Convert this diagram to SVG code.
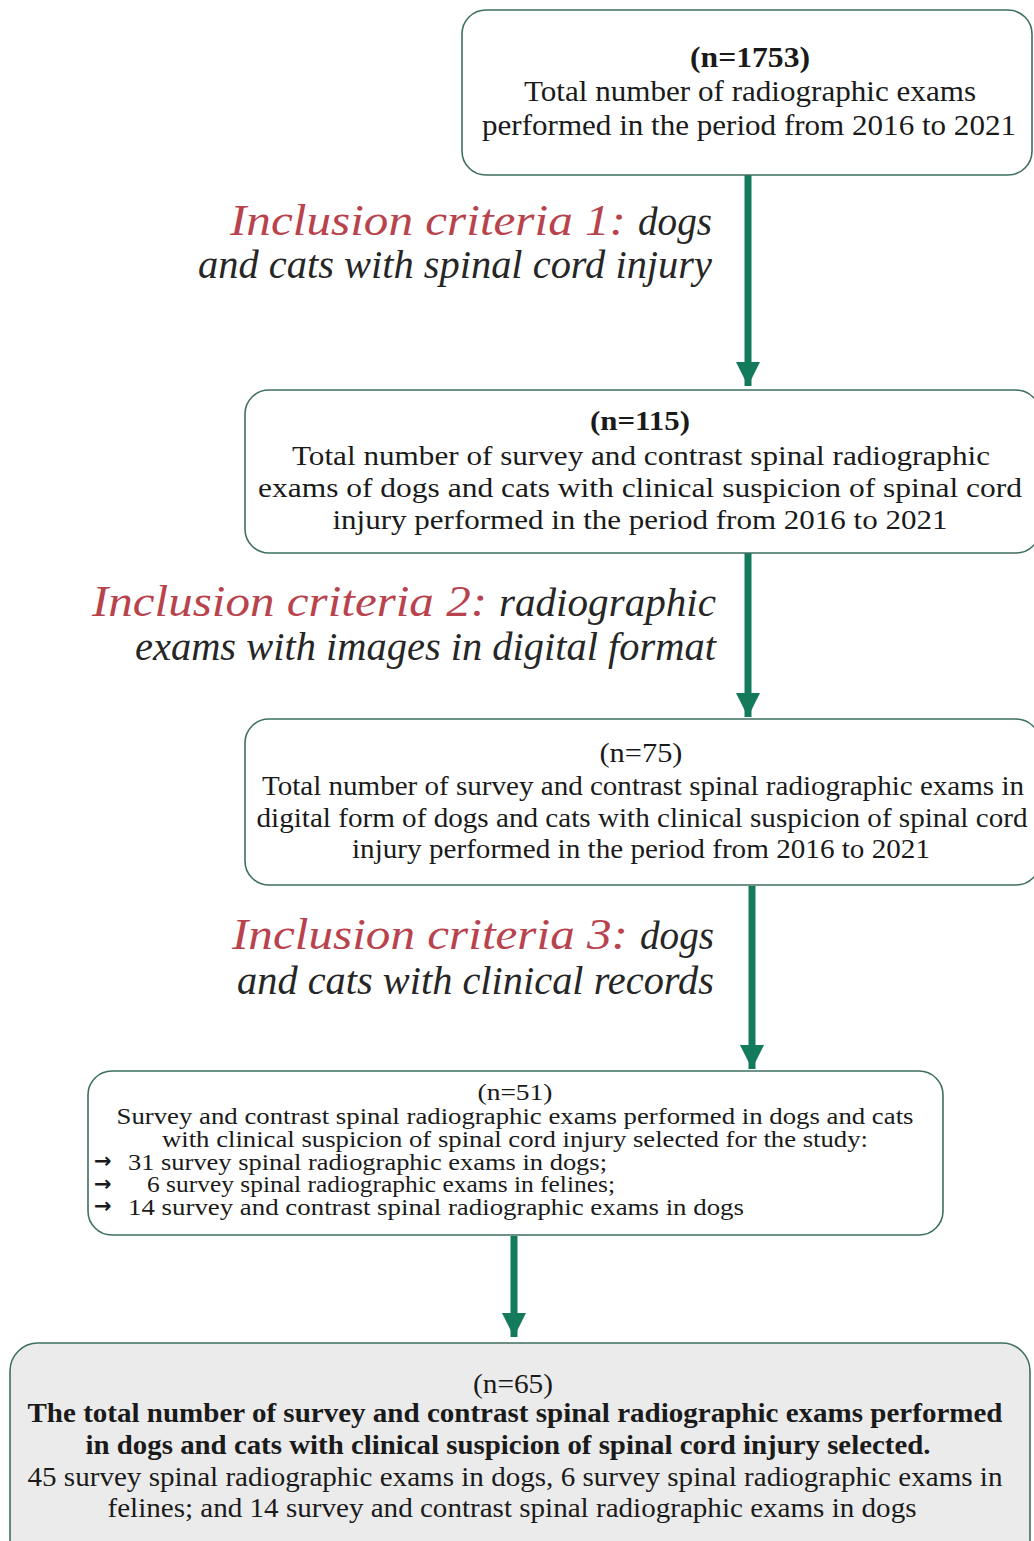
<svg xmlns="http://www.w3.org/2000/svg" width="1034" height="1541" viewBox="0 0 1034 1541">
<defs>
<marker id="ah" markerUnits="userSpaceOnUse" markerWidth="26" markerHeight="24" refX="24" refY="12" orient="auto">
<path d="M0,0 L24,12 L0,24 Z" fill="#137a5b"/>
</marker>
<style>
.box{fill:#ffffff;stroke:#3f6f60;stroke-width:1.6}
.gray{fill:#ebebeb}
.t{font-family:'Liberation Serif',serif;fill:#1a1a1a;text-anchor:middle}
.tl{font-family:'Liberation Serif',serif;fill:#1a1a1a}
.ar{font-family:'DejaVu Sans',sans-serif;fill:#1a1a1a;font-size:21px;font-weight:bold}
.red{font-family:'Liberation Serif',serif;font-style:italic;fill:#b8434d;font-size:44px}
.it{font-family:'Liberation Serif',serif;font-style:italic;fill:#262626;font-size:39px}
.b{font-weight:bold}
.conn{stroke:#137a5b;stroke-width:7;fill:none}
</style>
</defs>
<rect width="1034" height="1541" fill="#ffffff"/>

<g id="connectors">
<line class="conn" x1="748" y1="175" x2="748" y2="386" marker-end="url(#ah)"/>
<line class="conn" x1="748" y1="553" x2="748" y2="717" marker-end="url(#ah)"/>
<line class="conn" x1="752" y1="886" x2="752" y2="1069" marker-end="url(#ah)"/>
<line class="conn" x1="514" y1="1236" x2="514" y2="1337" marker-end="url(#ah)"/>
</g>

<g id="label1">
<text class="red" x="230" y="235" textLength="396" lengthAdjust="spacingAndGlyphs">Inclusion criteria 1:</text>
<text class="it" x="638" y="235" textLength="74" lengthAdjust="spacingAndGlyphs">dogs</text>
<text class="it" x="198" y="278" textLength="514" lengthAdjust="spacingAndGlyphs">and cats with spinal cord injury</text>
</g>

<g id="label2">
<text class="red" x="92" y="616" textLength="395" lengthAdjust="spacingAndGlyphs">Inclusion criteria 2:</text>
<text class="it" x="499" y="616" textLength="217" lengthAdjust="spacingAndGlyphs">radiographic</text>
<text class="it" x="135" y="660" textLength="581" lengthAdjust="spacingAndGlyphs">exams with images in digital format</text>
</g>

<g id="label3">
<text class="red" x="232" y="949" textLength="396" lengthAdjust="spacingAndGlyphs">Inclusion criteria 3:</text>
<text class="it" x="640" y="949" textLength="74" lengthAdjust="spacingAndGlyphs">dogs</text>
<text class="it" x="237" y="994" textLength="477" lengthAdjust="spacingAndGlyphs">and cats with clinical records</text>
</g>

<g id="node1">
<rect class="box" x="462" y="10" width="570" height="165" rx="24"/>
<text class="t b" x="750" y="67" font-size="29" textLength="120" lengthAdjust="spacingAndGlyphs">(n=1753)</text>
<text class="t" x="750" y="101" font-size="29" textLength="452" lengthAdjust="spacingAndGlyphs">Total number of radiographic exams</text>
<text class="t" x="749" y="135" font-size="29" textLength="534" lengthAdjust="spacingAndGlyphs">performed in the period from 2016 to 2021</text>
</g>

<g id="node2">
<rect class="box" x="245" y="390" width="795" height="163" rx="24"/>
<text class="t b" x="640" y="430" font-size="28" textLength="100" lengthAdjust="spacingAndGlyphs">(n=115)</text>
<text class="t" x="641" y="465" font-size="28" textLength="698" lengthAdjust="spacingAndGlyphs">Total number of survey and contrast spinal radiographic</text>
<text class="t" x="640" y="497" font-size="28" textLength="764" lengthAdjust="spacingAndGlyphs">exams of dogs and cats with  clinical  suspicion of spinal cord</text>
<text class="t" x="640" y="529" font-size="28" textLength="615" lengthAdjust="spacingAndGlyphs">injury  performed in  the period from 2016 to 2021</text>
</g>

<g id="node3">
<rect class="box" x="245" y="719" width="795" height="166" rx="24"/>
<text class="t" x="641" y="762" font-size="27" textLength="83" lengthAdjust="spacingAndGlyphs">(n=75)</text>
<text class="t" x="643" y="795" font-size="27" textLength="762" lengthAdjust="spacingAndGlyphs">Total number of survey and contrast spinal radiographic exams in</text>
<text class="t" x="642" y="827" font-size="27" textLength="771" lengthAdjust="spacingAndGlyphs">digital form of dogs and cats with clinical suspicion of spinal cord</text>
<text class="t" x="641" y="858" font-size="27" textLength="578" lengthAdjust="spacingAndGlyphs">injury performed in the period from 2016 to 2021</text>
</g>

<g id="node4">
<rect class="box" x="88" y="1071" width="855" height="164" rx="24"/>
<text class="t" x="515" y="1100" font-size="23" textLength="75" lengthAdjust="spacingAndGlyphs">(n=51)</text>
<text class="t" x="515" y="1124" font-size="23" textLength="797" lengthAdjust="spacingAndGlyphs">Survey and contrast spinal radiographic exams performed in dogs and cats</text>
<text class="t" x="515" y="1147" font-size="23" textLength="706" lengthAdjust="spacingAndGlyphs">with clinical  suspicion  of spinal cord injury  selected for the study:</text>
<text class="ar" x="94" y="1168">→</text>
<text class="tl" x="128" y="1170" font-size="23" textLength="479" lengthAdjust="spacingAndGlyphs">31 survey  spinal  radiographic  exams  in  dogs;</text>
<text class="ar" x="94" y="1191">→</text>
<text class="tl" x="147" y="1192" font-size="23" textLength="468" lengthAdjust="spacingAndGlyphs">6 survey  spinal  radiographic  exams  in  felines;</text>
<text class="ar" x="94" y="1213">→</text>
<text class="tl" x="128" y="1215" font-size="23" textLength="616" lengthAdjust="spacingAndGlyphs">14 survey  and  contrast  spinal  radiographic  exams  in  dogs</text>
</g>

<g id="node5">
<rect class="box gray" x="10" y="1343" width="1020" height="225" rx="28"/>
<text class="t" x="513" y="1393" font-size="27" textLength="80" lengthAdjust="spacingAndGlyphs">(n=65)</text>
<text class="t b" x="515" y="1422" font-size="27" textLength="975" lengthAdjust="spacingAndGlyphs">The total number of survey and contrast spinal radiographic exams performed</text>
<text class="t b" x="508" y="1454" font-size="27" textLength="845" lengthAdjust="spacingAndGlyphs">in dogs and cats with clinical suspicion of spinal cord injury selected.</text>
<text class="t" x="515" y="1486" font-size="27" textLength="975" lengthAdjust="spacingAndGlyphs">45 survey spinal radiographic exams in dogs, 6 survey spinal radiographic exams in</text>
<text class="t" x="512" y="1517" font-size="27" textLength="809" lengthAdjust="spacingAndGlyphs">felines; and 14 survey and contrast spinal radiographic exams in dogs</text>
</g>
</svg>
